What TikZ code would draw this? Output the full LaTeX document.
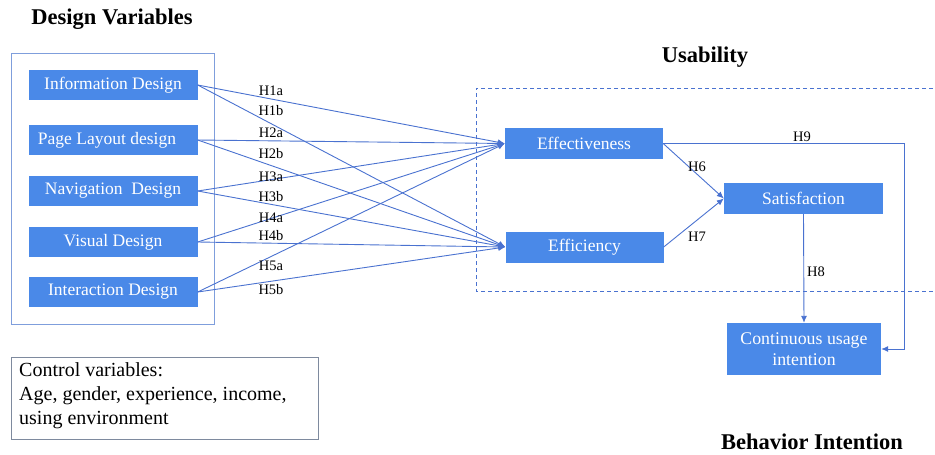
\documentclass[tikz,border=0pt]{standalone}
\usepackage{fontspec}
\setmainfont{Liberation Serif}
\usetikzlibrary{arrows.meta}
\definecolor{boxblue}{HTML}{4A89E8}
\definecolor{lineblue}{HTML}{4A72D0}
\definecolor{frameblue}{HTML}{7F9EDC}
\definecolor{ctrlgray}{HTML}{7E8A9E}
\tikzset{
  varbox/.style={fill=boxblue, draw=none, text=white, minimum width=169pt, minimum height=30pt,
    inner sep=0pt, font=\fontsize{17.5}{20}\selectfont},
  usebox/.style={fill=boxblue, draw=none, text=white, minimum width=158pt, minimum height=31pt,
    inner sep=0pt, font=\fontsize{17.5}{20}\selectfont},
  hlabel/.style={inner sep=0pt, font=\fontsize{14.5}{16}\selectfont},
  heading/.style={inner sep=0pt, font=\fontsize{22.5}{26}\selectfont\bfseries},
  link/.style={draw=lineblue, line width=0.9pt, -{Latex[length=7pt,width=6pt]}},
}
\begin{document}
\begin{tikzpicture}[x=1pt,y=-1pt]
\useasboundingbox (0,0) rectangle (935,455);

% headings
\node[heading] (tdesign) at (112,19) {Design Variables};
\node[heading] (tusab) at (705,57) {Usability};
\node[heading] (tbehav) at (812,442) {Behavior Intention};

% design variables frame and boxes
\draw[frameblue, line width=1pt] (11,53) rectangle (214,324);
\node[varbox] (info) at (113,85) {Information Design};
\node[varbox] (layout) at (113,140) {Page Layout design\hspace*{12pt}};
\node[varbox] (navi) at (113,191) {Navigation\ \ Design};
\node[varbox] (visual) at (113,242) {Visual Design};
\node[varbox] (inter) at (113,292) {Interaction Design};

% usability region (open on the right)
\draw[lineblue, line width=0.9pt, dash pattern=on 4pt off 3pt] (940,88) -- (476,88) -- (476,291) -- (940,291);

% outcome boxes
\node[usebox] (eff) at (584,143.5) {Effectiveness};
\node[usebox] (effi) at (584.5,247) {Efficiency};
\node[usebox, minimum width=159pt] (sat) at (803.5,198.5) {Satisfaction};
\node[usebox, minimum width=154pt, minimum height=52pt, align=center,
  font=\fontsize{17.8}{21}\selectfont] (cont) at (804,349) {Continuous usage\\intention};

% hypotheses H1--H5
\draw[link] (info.east) -- (eff.west);
\draw[link] (info.east) -- (effi.west);
\draw[link] (layout.east) -- (eff.west);
\draw[link] (layout.east) -- (effi.west);
\draw[link] (navi.east) -- (eff.west);
\draw[link] (navi.east) -- (effi.west);
\draw[link] (visual.east) -- (eff.west);
\draw[link] (visual.east) -- (effi.west);
\draw[link] (inter.east) -- (eff.west);
\draw[link] (inter.east) -- (effi.west);

\node[hlabel] (h1a) at (271,91) {H1a};
\node[hlabel] (h1b) at (271,111) {H1b};
\node[hlabel] (h2a) at (271,133) {H2a};
\node[hlabel] (h2b) at (271,154) {H2b};
\node[hlabel] (h3a) at (271,177) {H3a};
\node[hlabel] (h3b) at (271,197) {H3b};
\node[hlabel] (h4a) at (271,218) {H4a};
\node[hlabel] (h4b) at (271,236) {H4b};
\node[hlabel] (h5a) at (271,266) {H5a};
\node[hlabel] (h5b) at (271,290) {H5b};

% hypotheses H6--H9
\draw[link] (eff.east) -- (sat.west);
\draw[link] (effi.east) -- (sat.west);
\draw[link] (sat.south) -- (cont.north);
\coordinate (h9turn) at (904,143.5);
\draw[link] (eff.east) -- (h9turn) |- (cont.east);

\node[hlabel] (h6) at (697,167) {H6};
\node[hlabel] (h7) at (697,237) {H7};
\node[hlabel] (h8) at (816,272) {H8};
\node[hlabel] (h9) at (802,137) {H9};

% control variables
\draw[ctrlgray, line width=1pt] (11,357) rectangle (318,439);
\node[anchor=north west, inner sep=0pt, align=left, font=\fontsize{20}{24}\selectfont] (ctrl) at (19,362)
  {Control variables:\\Age, gender, experience, income,\\using environment};
\end{tikzpicture}
\end{document}
